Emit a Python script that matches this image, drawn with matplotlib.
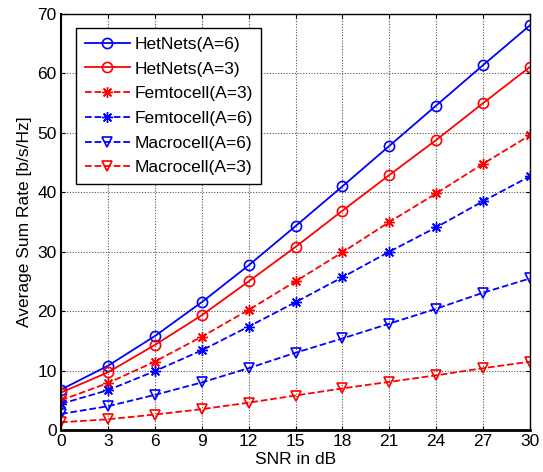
import matplotlib
matplotlib.use("Agg")
import matplotlib.pyplot as plt

plt.rcParams['font.family'] = ['Liberation Sans', 'DejaVu Sans']

snr = [0, 3, 6, 9, 12, 15, 18, 21, 24, 27, 30]
hetnets_a6 = [6.8, 10.8, 15.8, 21.5, 27.7, 34.3, 41.0, 47.8, 54.6, 61.4, 68.1]
hetnets_a3 = [6.3, 9.7, 14.3, 19.3, 25.0, 30.8, 36.9, 42.9, 48.8, 55.0, 61.1]
femto_a3 = [5.0, 7.9, 11.5, 15.7, 20.2, 25.0, 29.9, 35.0, 39.8, 44.8, 49.6]
femto_a6 = [4.4, 6.7, 9.9, 13.4, 17.4, 21.5, 25.7, 30.0, 34.1, 38.5, 42.7]
macro_a6 = [2.7, 4.0, 5.9, 8.0, 10.4, 13.0, 15.4, 17.9, 20.4, 23.1, 25.5]
macro_a3 = [1.3, 1.8, 2.6, 3.5, 4.6, 5.8, 7.0, 8.1, 9.2, 10.4, 11.5]

fig = plt.figure(figsize=(5.43, 4.72), dpi=100)
ax = fig.add_axes([61/543, 1 - 430/472, (530-61)/543, (430-14)/472])

ms = 7.3
lw = 1.3
ast = (8, 2, 0)
ax.plot(snr, hetnets_a6, '-o', color='blue', mfc='none', ms=ms, lw=lw, mew=1.2, label='HetNets(A=6)')
ax.plot(snr, hetnets_a3, '-o', color='red', mfc='none', ms=ms, lw=lw, mew=1.2, label='HetNets(A=3)')
ax.plot(snr, femto_a3, '--', marker=ast, color='red', ms=ms+0.5, lw=lw, mew=1.0, label='Femtocell(A=3)')
ax.plot(snr, femto_a6, '--', marker=ast, color='blue', ms=ms+0.5, lw=lw, mew=1.0, label='Femtocell(A=6)')
ax.plot(snr, macro_a6, '--v', color='blue', mfc='none', ms=ms+0.5, lw=lw, mew=1.2, label='Macrocell(A=6)')
ax.plot(snr, macro_a3, '--v', color='red', mfc='none', ms=ms+0.5, lw=lw, mew=1.2, label='Macrocell(A=3)')

ax.set_xlim(0, 30)
ax.set_ylim(0, 70)
ax.set_xticks(snr)
ax.set_yticks(range(0, 71, 10))
ax.tick_params(direction='in', top=True, right=True, labelsize=12.5, length=3, color='black', pad=3)
ax.grid(True, linestyle=(0, (1, 1.5)), color='#555555', linewidth=0.8)
for s in ax.spines.values():
    s.set_color('black')
    s.set_linewidth(1.0)
ax.spines['bottom'].set_linewidth(2.0)
ax.spines['left'].set_linewidth(1.5)

ax.set_xlabel('SNR in dB', fontsize=12.5, labelpad=2)
ax.set_ylabel('Average Sum Rate [b/s/Hz]', fontsize=12.5, labelpad=4)

leg = ax.legend(loc='upper left', bbox_to_anchor=(15/469, 1 - 14/416), fontsize=12.5,
                frameon=True, fancybox=False, edgecolor='black', framealpha=1,
                handlelength=2.6, handletextpad=0.25, borderaxespad=0, labelspacing=0.55,
                borderpad=0.5)
leg.get_frame().set_linewidth(1.0)

fig.savefig('out.png', dpi=100)
